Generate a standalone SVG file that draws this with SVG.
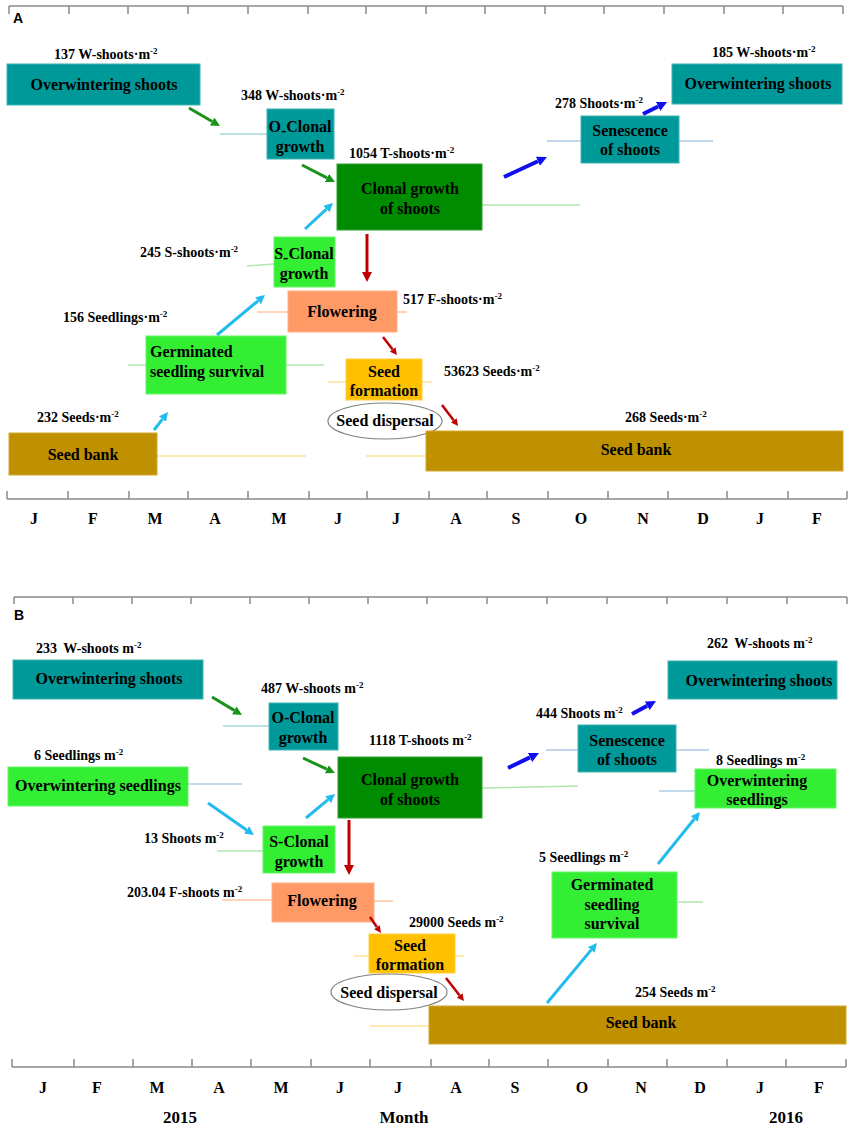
<svg xmlns="http://www.w3.org/2000/svg" width="851" height="1133" viewBox="0 0 851 1133">
<style>
.t{font-family:"Liberation Serif","Times New Roman",serif;font-weight:bold;fill:#000}
.lbl{font-size:16px;text-anchor:middle}
.lbs{font-size:16px}
.cnt{font-size:14px}
.mo{font-size:16px;text-anchor:middle}
.yr{font-size:17px;text-anchor:middle}
.pn{font-family:"Liberation Sans",Arial,sans-serif;font-weight:bold;font-size:14px}
.teal{fill:#009999;stroke:#3fb3b3;stroke-width:1}
.dg{fill:#008C00;stroke:#30a030;stroke-width:1}
.bg{fill:#33EE33;stroke:#66f466;stroke-width:1}
.sal{fill:#FF9966;stroke:#ffb08a;stroke-width:1}
.gold{fill:#FFC000;stroke:#ffd040;stroke-width:1}
.bank{fill:#BF9000;stroke:#d4aa30;stroke-width:1}
.ell{fill:#fff;stroke:#808080;stroke-width:1.2}
.ax{stroke:#8a8a8a;stroke-width:1.5;fill:none}
.ph{fill:none;stroke-width:1.5}
.pt{stroke:#a6dada}.pg{stroke:#aee6ae}.ps{stroke:#ffc6a8}.py{stroke:#ffe39a}.pb{stroke:#aecbe4}
.ag{stroke:#1a931a;stroke-width:3;fill:none}
.ac{stroke:#22bbee;stroke-width:3;fill:none}
.ab{stroke:#1010ee;stroke-width:4;fill:none}
.ar{stroke:#c00000;stroke-width:3;fill:none}
.ars{stroke:#c00000;stroke-width:2.5;fill:none}
</style>
<defs>
<marker id="mg" markerUnits="userSpaceOnUse" viewBox="0 0 10 10" markerWidth="9" markerHeight="9" refX="0" refY="5" orient="auto"><path d="M0,0 L10,5 L0,10 z" fill="#1a931a"/></marker>
<marker id="mc" markerUnits="userSpaceOnUse" viewBox="0 0 10 10" markerWidth="9" markerHeight="9" refX="0" refY="5" orient="auto"><path d="M0,0 L10,5 L0,10 z" fill="#22bbee"/></marker>
<marker id="mb" markerUnits="userSpaceOnUse" viewBox="0 0 10 10" markerWidth="10" markerHeight="10" refX="0" refY="5" orient="auto"><path d="M0,0 L10,5 L0,10 z" fill="#1010ee"/></marker>
<marker id="mr" markerUnits="userSpaceOnUse" viewBox="0 0 10 10" markerWidth="10" markerHeight="10" refX="0" refY="5" orient="auto"><path d="M0,0 L10,5 L0,10 z" fill="#c00000"/></marker>
<marker id="mrs" markerUnits="userSpaceOnUse" viewBox="0 0 10 10" markerWidth="7" markerHeight="7" refX="0" refY="5" orient="auto"><path d="M0,0 L10,5 L0,10 z" fill="#c00000"/></marker>
</defs>
<rect x="0" y="0" width="851" height="1133" fill="#fff"/>

<g id="axes">
<path class="ax" d="M9,6 H843 M9,6 V14 M69,6 V14 M128,6 V14 M188,6 V14 M248,6 V14 M308,6 V14 M366,6 V14 M426,6 V14 M485,6 V14 M545,6 V14 M604,6 V14 M664,6 V14 M724,6 V14 M783,6 V14 M843,6 V14"/>
<path class="ax" d="M7,499 H847 M7,491 V499 M68,491 V499 M129,491 V499 M188,491 V499 M248,491 V499 M309,491 V499 M367,491 V499 M429,491 V499 M487,491 V499 M548,491 V499 M608,491 V499 M668,491 V499 M727,491 V499 M788,491 V499 M847,491 V499"/>
<path class="ax" d="M14,597 H847 M14,597 V604 M73,597 V604 M132,597 V604 M191,597 V604 M250,597 V604 M309,597 V604 M368,597 V604 M427,597 V604 M487,597 V604 M547,597 V604 M607,597 V604 M667,597 V604 M727,597 V604 M787,597 V604 M847,597 V604"/>
<path class="ax" d="M12,1067 H846 M12,1059 V1067 M74,1059 V1067 M133,1059 V1067 M192,1059 V1067 M251,1059 V1067 M311,1059 V1067 M370,1059 V1067 M431,1059 V1067 M489,1059 V1067 M548,1059 V1067 M608,1059 V1067 M667,1059 V1067 M727,1059 V1067 M786,1059 V1067 M846,1059 V1067"/>
<text class="pn" x="13" y="23">A</text>
<text class="pn" x="14" y="620">B</text>
<g class="t mo">
<text x="34" y="524">J</text><text x="93" y="524">F</text><text x="155" y="524">M</text><text x="215" y="524">A</text><text x="279" y="524">M</text><text x="338" y="524">J</text><text x="396" y="524">J</text><text x="456" y="524">A</text><text x="516" y="524">S</text><text x="581" y="524">O</text><text x="643" y="524">N</text><text x="703" y="524">D</text><text x="760" y="524">J</text><text x="817" y="524">F</text>
<text x="43" y="1093">J</text><text x="97" y="1093">F</text><text x="157" y="1093">M</text><text x="219" y="1093">A</text><text x="281" y="1093">M</text><text x="340" y="1093">J</text><text x="398" y="1093">J</text><text x="456" y="1093">A</text><text x="515" y="1093">S</text><text x="582" y="1093">O</text><text x="641" y="1093">N</text><text x="700" y="1093">D</text><text x="760" y="1093">J</text><text x="819" y="1093">F</text>
</g>
<text class="t yr" x="180" y="1123">2015</text>
<text class="t yr" x="404" y="1123">Month</text>
<text class="t yr" x="786" y="1123">2016</text>
</g>

<g id="phase-lines">
<path class="ph pt" d="M220,134 H267"/>
<path class="ph pg" d="M482,205 H580"/>
<path class="ph pg" d="M247,266 L274,264"/>
<path class="ph ps" d="M257,312 H288 M397,312 H407"/>
<path class="ph pg" d="M128,365 H146 M286,365 H324"/>
<path class="ph py" d="M328,382 H346 M422,382 H432"/>
<path class="ph py" d="M157,456 H306 M366,456 H426"/>
<path class="ph pb" d="M547,141 H581 M679,141 H713"/>
<path class="ph pt" d="M223,726 H269"/>
<path class="ph pb" d="M188,784 H242"/>
<path class="ph pg" d="M217,851 H263"/>
<path class="ph pg" d="M482,788 L578,786"/>
<path class="ph ps" d="M222,900 H272 M374,901 H393"/>
<path class="ph py" d="M354,956 H369 M455,956 H464"/>
<path class="ph py" d="M370,1026 H429"/>
<path class="ph pb" d="M546,750 H578 M676,750 H709"/>
<path class="ph pb" d="M659,791 H695"/>
<path class="ph pg" d="M677,902 H703"/>
</g>

<g id="A-overwintering-shoots-1"><rect class="teal" x="7" y="64" width="193" height="41"/><text class="t lbl" x="104" y="90">Overwintering shoots</text></g>
<g id="A-o-clonal"><rect class="teal" x="267" y="109" width="67" height="50"/><text class="t lbl" x="300" y="132">O<tspan baseline-shift="-25%">-</tspan>Clonal</text><text class="t lbl" x="300" y="152">growth</text></g>
<g id="A-clonal-growth"><rect class="dg" x="337" y="164" width="145" height="66"/><text class="t lbl" x="410" y="194">Clonal growth</text><text class="t lbl" x="410" y="214">of shoots</text></g>
<g id="A-s-clonal"><rect class="bg" x="274" y="237" width="61" height="50"/><text class="t lbl" x="304" y="259">S<tspan baseline-shift="-25%">-</tspan>Clonal</text><text class="t lbl" x="304" y="279">growth</text></g>
<g id="A-flowering"><rect class="sal" x="288" y="291" width="109" height="41"/><text class="t lbl" x="342" y="317">Flowering</text></g>
<g id="A-germinated"><rect class="bg" x="146" y="336" width="140" height="58"/><text class="t lbs" x="150" y="357">Germinated</text><text class="t lbs" x="150" y="377">seedling survival</text></g>
<g id="A-seed-formation"><rect class="gold" x="346" y="359" width="76" height="41"/><text class="t lbl" x="384" y="377">Seed</text><text class="t lbl" x="384" y="396">formation</text></g>
<g id="A-seed-dispersal"><ellipse class="ell" cx="385" cy="421" rx="57" ry="18"/><text class="t lbl" x="385" y="426">Seed dispersal</text></g>
<g id="A-seed-bank-1"><rect class="bank" x="9" y="433" width="148" height="42"/><text class="t lbl" x="83" y="460">Seed bank</text></g>
<g id="A-seed-bank-2"><rect class="bank" x="426" y="431" width="417" height="40"/><text class="t lbl" x="636" y="455">Seed bank</text></g>
<g id="A-senescence"><rect class="teal" x="581" y="116" width="98" height="47"/><text class="t lbl" x="630" y="136">Senescence</text><text class="t lbl" x="630" y="155">of shoots</text></g>
<g id="A-overwintering-shoots-2"><rect class="teal" x="672" y="64" width="170" height="40"/><text class="t lbl" x="758" y="89">Overwintering shoots</text></g>

<g id="A-counts" class="t cnt">
<text x="54" y="59">137 W-shoots·m<tspan font-size="9" baseline-shift="super">-2</tspan></text>
<text x="241" y="100">348 W-shoots·m<tspan font-size="9" baseline-shift="super">-2</tspan></text>
<text x="349" y="158">1054 T-shoots·m<tspan font-size="9" baseline-shift="super">-2</tspan></text>
<text x="140" y="257">245 S-shoots·m<tspan font-size="9" baseline-shift="super">-2</tspan></text>
<text x="403" y="304">517 F-shoots·m<tspan font-size="9" baseline-shift="super">-2</tspan></text>
<text x="63" y="322">156 Seedlings·m<tspan font-size="9" baseline-shift="super">-2</tspan></text>
<text x="444" y="376">53623 Seeds·m<tspan font-size="9" baseline-shift="super">-2</tspan></text>
<text x="625" y="422">268 Seeds·m<tspan font-size="9" baseline-shift="super">-2</tspan></text>
<text x="37" y="422">232 Seeds·m<tspan font-size="9" baseline-shift="super">-2</tspan></text>
<text x="555" y="108">278 Shoots·m<tspan font-size="9" baseline-shift="super">-2</tspan></text>
<text x="712" y="57">185 W-shoots·m<tspan font-size="9" baseline-shift="super">-2</tspan></text>
</g>

<g id="B-overwintering-shoots-1"><rect class="teal" x="13" y="660" width="190" height="39"/><text class="t lbl" x="109" y="684">Overwintering shoots</text></g>
<g id="B-o-clonal"><rect class="teal" x="269" y="703" width="69" height="47"/><text class="t lbl" x="303" y="723">O-Clonal</text><text class="t lbl" x="303" y="743">growth</text></g>
<g id="B-overwintering-seedlings-1"><rect class="bg" x="8" y="767" width="180" height="39"/><text class="t lbl" x="98" y="791">Overwintering seedlings</text></g>
<g id="B-clonal-growth"><rect class="dg" x="338" y="757" width="144" height="61"/><text class="t lbl" x="410" y="785">Clonal growth</text><text class="t lbl" x="410" y="805">of shoots</text></g>
<g id="B-s-clonal"><rect class="bg" x="263" y="826" width="72" height="47"/><text class="t lbl" x="299" y="847">S-Clonal</text><text class="t lbl" x="299" y="867">growth</text></g>
<g id="B-flowering"><rect class="sal" x="272" y="883" width="102" height="39"/><text class="t lbl" x="322" y="906">Flowering</text></g>
<g id="B-seed-formation"><rect class="gold" x="369" y="934" width="86" height="39"/><text class="t lbl" x="410" y="951">Seed</text><text class="t lbl" x="410" y="970">formation</text></g>
<g id="B-seed-dispersal"><ellipse class="ell" cx="389" cy="992" rx="58" ry="18"/><text class="t lbl" x="389" y="998">Seed dispersal</text></g>
<g id="B-seed-bank"><rect class="bank" x="429" y="1006" width="417" height="38"/><text class="t lbl" x="641" y="1028">Seed bank</text></g>
<g id="B-germinated"><rect class="bg" x="552" y="872" width="125" height="66"/><text class="t lbl" x="612" y="890">Germinated</text><text class="t lbl" x="612" y="910">seedling</text><text class="t lbl" x="612" y="929">survival</text></g>
<g id="B-senescence"><rect class="teal" x="578" y="725" width="98" height="47"/><text class="t lbl" x="627" y="746">Senescence</text><text class="t lbl" x="627" y="765">of shoots</text></g>
<g id="B-overwintering-shoots-2"><rect class="teal" x="668" y="661" width="169" height="38"/><text class="t lbl" x="759" y="686">Overwintering shoots</text></g>
<g id="B-overwintering-seedlings-2"><rect class="bg" x="695" y="769" width="141" height="39"/><text class="t lbl" x="757" y="786">Overwintering</text><text class="t lbl" x="757" y="805">seedlings</text></g>

<g id="B-counts" class="t cnt">
<text x="36" y="653">233 <tspan dx="3">W-shoots m</tspan><tspan font-size="9" baseline-shift="super">-2</tspan></text>
<text x="261" y="693">487 W-shoots m<tspan font-size="9" baseline-shift="super">-2</tspan></text>
<text x="369" y="745">1118 T-shoots m<tspan font-size="9" baseline-shift="super">-2</tspan></text>
<text x="34" y="760">6 Seedlings m<tspan font-size="9" baseline-shift="super">-2</tspan></text>
<text x="144" y="843">13 Shoots m<tspan font-size="9" baseline-shift="super">-2</tspan></text>
<text x="127" y="897">203.04 F-shoots m<tspan font-size="9" baseline-shift="super">-2</tspan></text>
<text x="409" y="927">29000 Seeds m<tspan font-size="9" baseline-shift="super">-2</tspan></text>
<text x="635" y="997">254 Seeds m<tspan font-size="9" baseline-shift="super">-2</tspan></text>
<text x="536" y="718">444 Shoots m<tspan font-size="9" baseline-shift="super">-2</tspan></text>
<text x="707" y="648">262 <tspan dx="3">W-shoots m</tspan><tspan font-size="9" baseline-shift="super">-2</tspan></text>
<text x="716" y="765">8 Seedlings m<tspan font-size="9" baseline-shift="super">-2</tspan></text>
<text x="539" y="862">5 Seedlings m<tspan font-size="9" baseline-shift="super">-2</tspan></text>
</g>

<g id="connectors">
<line class="ag" x1="189" y1="108" x2="212.2" y2="121.5" marker-end="url(#mg)"/>
<line class="ag" x1="302" y1="165" x2="327" y2="177.9" marker-end="url(#mg)"/>
<line class="ac" x1="305" y1="229" x2="326.4" y2="209.1" marker-end="url(#mc)"/>
<line class="ar" x1="367" y1="234" x2="367" y2="272" marker-end="url(#mr)"/>
<line class="ac" x1="217" y1="335" x2="258.1" y2="300.8" marker-end="url(#mc)"/>
<line class="ars" x1="383" y1="337" x2="392.7" y2="349.5" marker-end="url(#mrs)"/>
<line class="ars" x1="442" y1="405" x2="453.8" y2="420.4" marker-end="url(#mrs)"/>
<line class="ac" x1="154" y1="430" x2="162.5" y2="419.1" marker-end="url(#mc)"/>
<line class="ab" x1="504" y1="177" x2="537.9" y2="161.2" marker-end="url(#mb)"/>
<line class="ab" x1="643" y1="114" x2="658.1" y2="106.5" marker-end="url(#mb)"/>
<line class="ag" x1="212" y1="697" x2="234.3" y2="710.4" marker-end="url(#mg)"/>
<line class="ag" x1="303" y1="758" x2="326.8" y2="769.2" marker-end="url(#mg)"/>
<line class="ac" x1="208" y1="803" x2="246.6" y2="829.9" marker-end="url(#mc)"/>
<line class="ac" x1="306" y1="818" x2="328.1" y2="799.7" marker-end="url(#mc)"/>
<line class="ar" x1="349" y1="820" x2="349" y2="865" marker-end="url(#mr)"/>
<line class="ars" x1="370" y1="917" x2="377" y2="927.2" marker-end="url(#mrs)"/>
<line class="ars" x1="446" y1="978" x2="459.7" y2="995.5" marker-end="url(#mrs)"/>
<line class="ac" x1="547" y1="1003" x2="591.2" y2="949.9" marker-end="url(#mc)"/>
<line class="ac" x1="658" y1="864" x2="694.3" y2="819" marker-end="url(#mc)"/>
<line class="ab" x1="508" y1="768" x2="530" y2="757.4" marker-end="url(#mb)"/>
<line class="ab" x1="632" y1="714" x2="647.2" y2="705.8" marker-end="url(#mb)"/>
</g>
</svg>
